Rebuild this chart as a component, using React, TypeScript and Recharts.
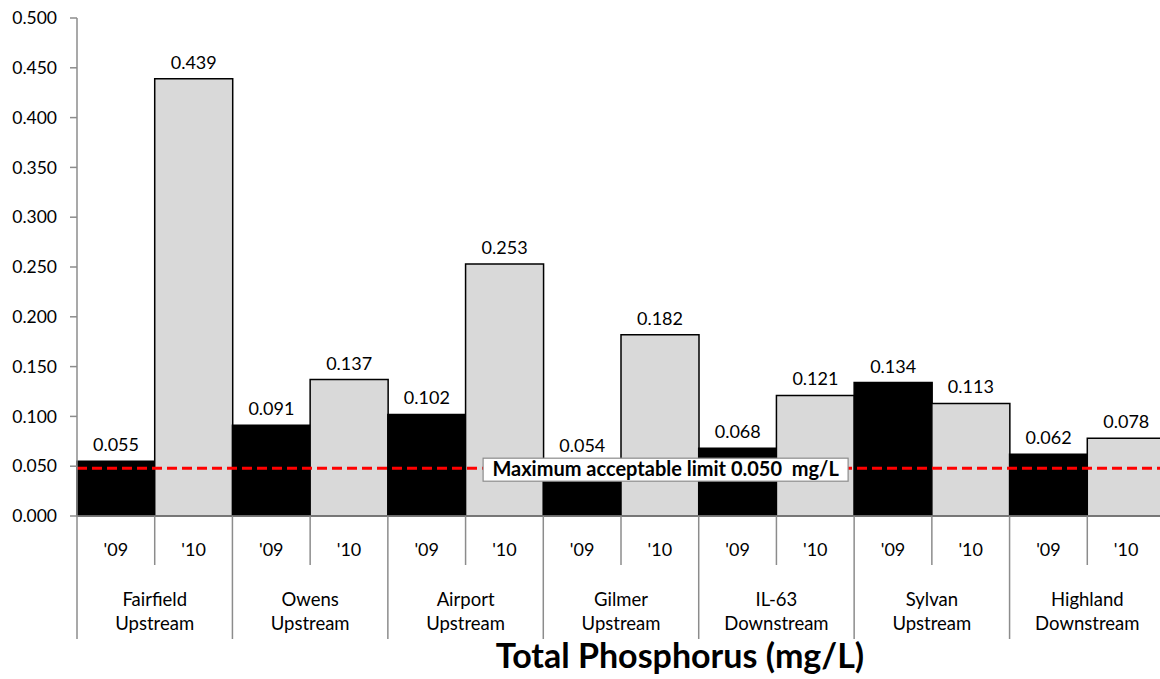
import { Bar, BarChart, Cell, LabelList, ReferenceLine, XAxis, YAxis } from 'recharts';

const SITES = [
  ['Fairfield', 'Upstream'],
  ['Owens', 'Upstream'],
  ['Airport', 'Upstream'],
  ['Gilmer', 'Upstream'],
  ['IL-63', 'Downstream'],
  ['Sylvan', 'Upstream'],
  ['Highland', 'Downstream'],
];
const YEARS = ["'09", "'10"];
const TP_2009 = [0.055, 0.091, 0.102, 0.054, 0.068, 0.134, 0.062];
const TP_2010 = [0.439, 0.137, 0.253, 0.182, 0.121, 0.113, 0.078];
const Y_TICKS = [0, 0.05, 0.1, 0.15, 0.2, 0.25, 0.3, 0.35, 0.4, 0.45, 0.5];
const LIMIT_LINE = 0.048;
const LIMIT_TEXT = 'Maximum acceptable limit 0.050  mg/L';
const TITLE = 'Total Phosphorus (mg/L)';

const rows = SITES.flatMap((site, i) => [
  { key: `${i}-09`, year: YEARS[0], site, value: TP_2009[i], later: false },
  { key: `${i}-10`, year: YEARS[1], site, value: TP_2010[i], later: true },
]);

const FONT = 'Lato, "Open Sans", sans-serif';
const AXIS_GRAY = '#8c8c8c';
const CHART_W = 1170;
const CHART_H = 679;
const LEFT = 77;
const RIGHT_MARGIN = 5;
const BAND = (CHART_W - LEFT - RIGHT_MARGIN) / rows.length;

function SiteTick(props: any) {
  const { x, y, payload } = props;
  const i = payload?.index ?? props.index ?? 0;
  const row = rows[i];
  const odd = i % 2 === 1;
  return (
    <g>
      <text x={x} y={y + 40} textAnchor="middle" fontSize={18} fontFamily={FONT} fill="#000">
        {row.year}
      </text>
      <line x1={x + BAND / 2} y1={y} x2={x + BAND / 2} y2={y + (odd ? 123 : 49)} stroke={AXIS_GRAY} strokeWidth={1.5} />
      {i === 0 && <line x1={x - BAND / 2} y1={y} x2={x - BAND / 2} y2={y + 123} stroke={AXIS_GRAY} strokeWidth={1.5} />}
      {odd && (
        <text textAnchor="middle" fontSize={18.5} fontFamily={FONT} fill="#000">
          <tspan x={x - BAND / 2} y={y + 90}>{row.site[0]}</tspan>
          <tspan x={x - BAND / 2} y={y + 114}>{row.site[1]}</tspan>
        </text>
      )}
    </g>
  );
}

function LimitLabel(props: any) {
  const vb = props.viewBox || {};
  const cx = vb.x + vb.width * 0.541;
  const cy = vb.y;
  const w = 365;
  const h = 23;
  return (
    <g>
      <rect x={cx - w / 2} y={cy - 10} width={w} height={h} fill="#fff" stroke="#8c8c8c" strokeWidth={1.2} />
      <text x={cx} y={cy + 8} textAnchor="middle" fontSize={20} fontWeight="bold" fontFamily={FONT} fill="#000" style={{ whiteSpace: 'pre' }}>
        {LIMIT_TEXT}
      </text>
    </g>
  );
}

export default function App() {
  return (
    <div style={{ position: 'absolute', left: 0, top: 0, width: 1160, height: 679, overflow: 'hidden', background: '#fff' }}>
      <BarChart
        width={CHART_W}
        height={CHART_H}
        data={rows}
        margin={{ top: 18, right: RIGHT_MARGIN, left: 0, bottom: 0 }}
        barCategoryGap={0}
      >
        <XAxis
          dataKey="key"
          interval={0}
          height={163}
          tickSize={0}
          tickMargin={0}
          tickLine={false}
          axisLine={{ stroke: AXIS_GRAY, strokeWidth: 1.5 }}
          tick={<SiteTick />}
        />
        <YAxis
          width={LEFT}
          domain={[0, 0.5]}
          ticks={Y_TICKS}
          interval={0}
          tickFormatter={(v: number) => v.toFixed(3)}
          tickSize={7}
          tickMargin={13}
          tickLine={{ stroke: AXIS_GRAY, strokeWidth: 1.5 }}
          axisLine={{ stroke: AXIS_GRAY, strokeWidth: 1.5 }}
          tick={{ fill: '#000', fontSize: 17.5, fontFamily: FONT }}
        />
        <Bar dataKey="value" isAnimationActive={false}>
          {rows.map((r) => (
            <Cell key={r.key} fill={r.later ? '#d9d9d9' : '#000000'} stroke="#000" strokeWidth={1.5} />
          ))}
          <LabelList
            dataKey="value"
            position="top"
            offset={10}
            formatter={(v: any) => Number(v).toFixed(3)}
            style={{ fill: '#000', fontSize: 18, fontFamily: FONT }}
          />
        </Bar>
        <ReferenceLine
          y={LIMIT_LINE}
          stroke="#ff0000"
          strokeWidth={3}
          strokeDasharray="10 5"
          label={<LimitLabel />}
          isFront
        />
      </BarChart>
      <div
        style={{
          position: 'absolute',
          left: 0,
          width: 1360,
          top: 634,
          textAlign: 'center',
          fontFamily: FONT,
          fontWeight: 'bold',
          fontSize: 34,
          color: '#000',
        }}
      >
        {TITLE}
      </div>
    </div>
  );
}
